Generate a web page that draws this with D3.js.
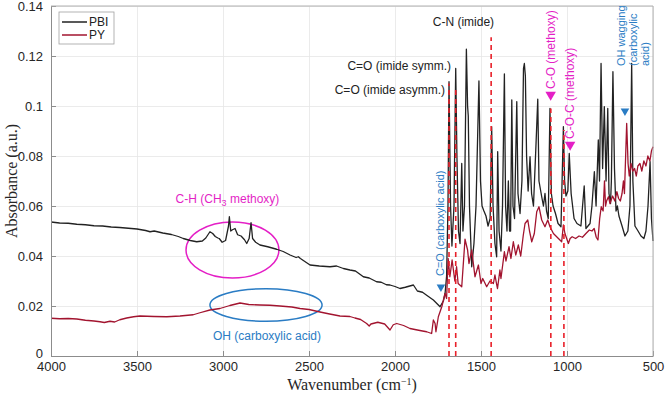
<!DOCTYPE html>
<html>
<head>
<meta charset="utf-8">
<script src="https://cdn.jsdelivr.net/npm/d3@7"></script>
<style>
  body { margin: 0; background: #fff; }
  svg { display: block; font-family: "Liberation Sans", Arial, sans-serif; }
</style>
</head>
<body>
<div id="chart"></div>
<script>
// spectra: [wavenumber cm-1, absorbance]
const pbi = [
  [4000,0.0536],[3950,0.0532],[3900,0.0531],[3850,0.0527],[3800,0.0525],[3750,0.0521],[3700,0.052],[3650,0.0516],
  [3600,0.0514],[3550,0.0511],[3500,0.0508],[3450,0.0502],[3424,0.0497],[3400,0.05],[3350,0.0492],[3300,0.0486],
  [3260,0.0478],[3231,0.047],[3190,0.0462],[3153,0.0457],[3120,0.046],[3100,0.0472],[3076,0.0497],[3060,0.049],
  [3045,0.0478],[3030,0.0472],[3022,0.047],[3005,0.0455],[2985,0.0462],[2968,0.052],[2963,0.0557],[2955,0.05],
  [2945,0.0505],[2930,0.051],[2915,0.0485],[2895,0.048],[2875,0.0465],[2862,0.045],[2848,0.047],[2837,0.0533],
  [2828,0.047],[2810,0.0455],[2785,0.0444],[2740,0.0437],[2688,0.0427],[2650,0.0418],[2610,0.0404],[2575,0.0394],
  [2562,0.0397],[2550,0.039],[2494,0.0364],[2440,0.036],[2378,0.0357],[2340,0.036],[2300,0.035],[2262,0.0344],
  [2230,0.034],[2200,0.0325],[2184,0.0317],[2150,0.0312],[2107,0.0297],[2080,0.0295],[2050,0.0285],[2029,0.0284],
  [2000,0.0278],[1971,0.027],[1940,0.0275],[1893,0.0284],[1870,0.026],[1840,0.0255],[1810,0.024],[1777,0.0224],
  [1738,0.0197],[1719,0.022],[1709,0.025],[1700,0.032],[1692,0.06],[1686,0.1097],[1677,0.06],[1669,0.044],
  [1657,0.06],[1647,0.115],[1640,0.08],[1631,0.05],[1622,0.045],[1612,0.077],[1605,0.05],[1596,0.06],
  [1585,0.1227],[1578,0.1],[1574,0.096],[1567,0.06],[1554,0.0357],[1541,0.045],[1529,0.06],[1512,0.11],
  [1503,0.07],[1494,0.06],[1483,0.058],[1471,0.056],[1459,0.052],[1447,0.055],[1438,0.0917],[1430,0.06],
  [1419,0.045],[1409,0.0397],[1403,0.0817],[1395,0.05],[1384,0.042],[1375,0.06],[1364,0.1128],[1357,0.06],
  [1349,0.05],[1341,0.07],[1334,0.05],[1328,0.05],[1321,0.1024],[1314,0.06],[1305,0.055],[1292,0.1017],
  [1285,0.065],[1273,0.057],[1262,0.07],[1253,0.115],[1248,0.117],[1242,0.112],[1235,0.08],[1226,0.066],
  [1215,0.0797],[1206,0.065],[1195,0.06],[1180,0.085],[1170,0.1027],[1163,0.07],[1147,0.0637],[1137,0.06],
  [1128,0.065],[1119,0.058],[1109,0.055],[1099,0.099],[1091,0.065],[1081,0.06],[1067,0.057],[1052,0.053],
  [1035,0.0517],[1021,0.0917],[1014,0.07],[1006,0.064],[995,0.066],[987,0.081],[976,0.065],[959,0.055],
  [942,0.053],[919,0.052],[900,0.068],[890,0.051],[866,0.053],[855,0.06],[841,0.0737],[831,0.06],
  [818,0.0864],[811,0.07],[802,0.117],[793,0.075],[783,0.0997],[773,0.07],[763,0.099],[756,0.065],
  [747,0.061],[742,0.07],[733,0.1137],[724,0.075],[715,0.058],[707,0.06],[698,0.056],[680,0.052],
  [663,0.048],[646,0.05],[634,0.06],[624,0.117],[617,0.07],[605,0.052],[587,0.05],[570,0.048],
  [553,0.047],[541,0.05],[529,0.06],[517,0.0777],[509,0.055],[500,0.046]
]

const py = [
  [4000,0.0151],[3950,0.0149],[3900,0.015],[3850,0.0148],[3800,0.0143],[3750,0.014],[3715,0.0137],[3690,0.0134],
  [3657,0.0139],[3630,0.0136],[3600,0.0145],[3560,0.0152],[3520,0.0157],[3483,0.016],[3400,0.0158],[3327,0.0157],
  [3250,0.016],[3173,0.0165],[3134,0.0173],[3076,0.0184],[3018,0.019],[2960,0.0202],[2901,0.0212],[2850,0.0206],
  [2785,0.0204],[2727,0.0203],[2669,0.02],[2600,0.0196],[2552,0.019],[2500,0.0186],[2436,0.0176],[2380,0.0168],
  [2320,0.016],[2262,0.0158],[2233,0.0152],[2200,0.0146],[2165,0.013],[2150,0.012],[2140,0.0128],[2100,0.0135],
  [2060,0.0128],[2029,0.0104],[2010,0.0125],[1990,0.013],[1950,0.0122],[1913,0.011],[1870,0.0104],[1840,0.01],
  [1816,0.0097],[1787,0.009],[1777,0.0144],[1767,0.013],[1762,0.0097],[1748,0.0157],[1728,0.0197],[1709,0.025],
  [1700,0.023],[1691,0.039],[1681,0.0317],[1668,0.0384],[1652,0.03],[1642,0.0357],[1633,0.029],[1612,0.0277],
  [1593,0.0467],[1578,0.0424],[1570,0.037],[1554,0.0424],[1535,0.0317],[1515,0.0364],[1500,0.029],[1490,0.031],
  [1467,0.0277],[1448,0.03],[1428,0.029],[1419,0.0324],[1410,0.029],[1404,0.027],[1390,0.0344],[1384,0.031],
  [1364,0.0417],[1355,0.038],[1337,0.0437],[1326,0.039],[1312,0.0457],[1298,0.0404],[1283,0.0444],[1269,0.04],
  [1254,0.0484],[1244,0.053],[1228,0.0544],[1218,0.05],[1205,0.0457],[1190,0.049],[1176,0.0577],[1163,0.0597],
  [1147,0.0544],[1128,0.0517],[1112,0.0544],[1099,0.0517],[1079,0.049],[1050,0.047],[1031,0.0457],[1021,0.0524],
  [1012,0.049],[992,0.045],[982,0.047],[970,0.0477],[950,0.047],[930,0.048],[910,0.0475],[890,0.049],
  [870,0.0504],[855,0.05],[842,0.051],[830,0.0475],[820,0.0464],[810,0.055],[801,0.0597],[790,0.058],
  [782,0.07],[776,0.06],[770,0.062],[759,0.0637],[750,0.061],[735,0.064],[722,0.062],[710,0.0657],
  [700,0.063],[690,0.062],[680,0.065],[672,0.07],[666,0.065],[653,0.093],[645,0.077],[638,0.072],
  [628,0.077],[618,0.074],[607,0.075],[597,0.072],[588,0.076],[576,0.077],[565,0.074],[553,0.078],
  [541,0.076],[530,0.08],[518,0.078],[509,0.082],[500,0.0837]
]

// band assignments: dashed guide lines [wavenumber, top absorbance]
const bandLines = [[1686,0.109],[1647,0.108],[1441,0.1275],[1094,0.099],[1018,0.0904]]

const xTicks = [4000,3500,3000,2500,2000,1500,1000,500]
const yTicks = [0,0.02,0.04,0.06,0.08,0.1,0.12,0.14]
const yTickLabels = ["0","0.02","0.04","0.06","0.08","0.1","0.12","0.14"]

const seriesNames = ["PBI","PY"]
const seriesColors = ["#222222","#a2142f"]

const magenta = "#e41fc6"
const blue = "#2a7cc4"

drawChart("#chart")

function drawChart(id){
    const canvas = createCanvas()
    const svg = addSvg(id,canvas)
    const sc = addScales(canvas)

    addGrid(svg,sc,canvas)
    addEllipses(svg,sc)
    addSpectrum(svg,sc,pbi,seriesColors[0])
    addSpectrum(svg,sc,py,seriesColors[1])
    addBandLines(svg,sc)
    addAxes(svg,sc,canvas)
    addAnnotations(svg,sc)
    addLegend(svg,canvas)
    addLabels(svg,canvas)
}

function createCanvas(){
    return { width: 666, height: 394, margin: {top: 6, bottom: 38, right: 13, left: 51} }
}

function addSvg(id,canvas){
    return d3.select(id).append("svg").attr("width",canvas.width).attr("height",canvas.height)
}

function addScales(canvas){
    const xScale = d3.scaleLinear().domain([4000,500])
      .range([canvas.margin.left,canvas.width - canvas.margin.right])
    const yScale = d3.scaleLinear().domain([0,0.14])
      .range([canvas.height - canvas.margin.bottom,canvas.margin.top])
    return {xScale,yScale}
}

function addGrid(svg,sc,canvas){
    const b = canvas.height - canvas.margin.bottom
    const w = canvas.width - canvas.margin.left - canvas.margin.right
    const gx = svg.append("g").attr("transform",`translate(0,${b})`)
      .call(d3.axisBottom(sc.xScale).tickValues(xTicks).tickSize(-(b - canvas.margin.top)).tickFormat(""))
    const gy = svg.append("g").attr("transform",`translate(${canvas.margin.left},0)`)
      .call(d3.axisLeft(sc.yScale).tickValues(yTicks).tickSize(-w).tickFormat(""))
    for (const g of [gx,gy]){
        g.select(".domain").remove()
        g.selectAll("line").attr("stroke","#e6e6e6").attr("stroke-width",0.8)
    }
}

function addSpectrum(svg,sc,data,color){
    const line = d3.line().x(d => sc.xScale(d[0])).y(d => sc.yScale(d[1]))
    svg.append("path").datum(data).attr("fill","none").attr("stroke",color)
      .attr("stroke-width",1.3).attr("stroke-linejoin","round").attr("d",line)
}

function addBandLines(svg,sc){
    svg.append("g").selectAll("line").data(bandLines).join("line")
      .attr("x1",d => sc.xScale(d[0])).attr("x2",d => sc.xScale(d[0]))
      .attr("y1",sc.yScale(0)).attr("y2",d => sc.yScale(d[1]))
      .attr("stroke","#e8202a").attr("stroke-width",1.6).attr("stroke-dasharray","5 4")
}

function addAxes(svg,sc,canvas){
    const b = canvas.height - canvas.margin.bottom
    const r = canvas.width - canvas.margin.right
    const gx = svg.append("g").attr("transform",`translate(0,${b})`)
      .call(d3.axisBottom(sc.xScale).tickValues(xTicks).tickSizeInner(-5).tickSizeOuter(0).tickPadding(6).tickFormat(d3.format("d")))
    const gy = svg.append("g").attr("transform",`translate(${canvas.margin.left},0)`)
      .call(d3.axisLeft(sc.yScale).tickValues(yTicks).tickSizeInner(-5).tickSizeOuter(0).tickPadding(8)
        .tickFormat((d,i) => yTickLabels[i]))
    for (const g of [gx,gy]){
        g.select(".domain").attr("stroke","#8c8c8c")
        g.selectAll(".tick line").attr("stroke","#8c8c8c")
        g.selectAll("text").attr("fill","#262626").style("font-size","13px")
    }
    // the "0" label sits a little above the x tick labels, as in the figure
    gy.selectAll(".tick").filter(d => d === 0).select("text").attr("dy","0.1em")
    // box
    svg.append("line").attr("x1",canvas.margin.left).attr("x2",r).attr("y1",canvas.margin.top).attr("y2",canvas.margin.top)
      .attr("stroke","#b0b0b0")
    svg.append("line").attr("x1",r).attr("x2",r).attr("y1",canvas.margin.top).attr("y2",b)
      .attr("stroke","#b0b0b0")
}

function addEllipses(svg,sc){
    const pxX = v => Math.abs(sc.xScale(0) - sc.xScale(v))
    const pxY = v => Math.abs(sc.yScale(0) - sc.yScale(v))
    svg.append("ellipse").attr("cx",sc.xScale(2945)).attr("cy",sc.yScale(0.0424))
      .attr("rx",pxX(270)).attr("ry",pxY(0.0112))
      .attr("fill","none").attr("stroke",magenta).attr("stroke-width",1.5)
    svg.append("ellipse").attr("cx",sc.xScale(2750)).attr("cy",sc.yScale(0.0204))
      .attr("rx",pxX(326)).attr("ry",pxY(0.0065))
      .attr("fill","none").attr("stroke",blue).attr("stroke-width",1.5)
}

function addAnnotations(svg,sc){
    const X = sc.xScale, Y = sc.yScale

    const t = svg.append("g").style("font-size","12px")
    t.append("text").attr("x",X(1424)).attr("y",Y(0.132)).attr("text-anchor","end").attr("fill","#222").text("C-N (imide)")
    t.append("text").attr("x",X(1674)).attr("y",Y(0.1144)).attr("text-anchor","end").attr("fill","#222").text("C=O (imide symm.)")
    t.append("text").attr("x",X(1709)).attr("y",Y(0.1048)).attr("text-anchor","end").attr("fill","#222").text("C=O (imide asymm.)")

    const ch = t.append("text").attr("x",X(2974)).attr("y",Y(0.0612)).attr("text-anchor","middle").attr("fill",magenta)
    ch.append("tspan").text("C-H (CH")
    ch.append("tspan").attr("dy",3).style("font-size","9px").text("3")
    ch.append("tspan").attr("dy",-3).text(" methoxy)")

    t.append("text").attr("x",X(2744)).attr("y",Y(0.0064)).attr("text-anchor","middle").attr("fill",blue)
      .text("OH (carboxylic acid)")

    const rot = (w,v,txt,color,size) => t.append("text")
      .attr("transform",`translate(${X(w)},${Y(v)}) rotate(-90)`)
      .attr("fill",color).style("font-size",size).text(txt)

    rot(1715,0.032,"C=O (carboxylic acid)",blue,"11px")
    rot(1068,0.1068,"C-O (methoxy)",magenta,"12px")
    rot(958,0.0868,"C-O-C (methoxy)",magenta,"12px")
    rot(661,0.116,"OH wagging",blue,"11px")
    rot(594,0.116,"(carboxylic",blue,"11px")
    rot(525,0.116,"acid)",blue,"11px")

    const markers = [[1733,0.0276,blue,32],[663,0.098,blue,32],[1095,0.1045,magenta,48],[982,0.0845,magenta,48]]
    svg.append("g").selectAll("path").data(markers).join("path")
      .attr("d",d => d3.symbol(d3.symbolTriangle,d[3])())
      .attr("transform",d => `translate(${X(d[0])},${Y(d[1])}) rotate(180)`)
      .attr("fill",d => d[2])
}

function addLegend(svg,canvas){
    const g = svg.append("g").attr("transform","translate(59,12)")
    g.append("rect").attr("width",55).attr("height",32).attr("fill","#fff").attr("stroke","#a0a0a0").attr("stroke-width",0.8)
    seriesNames.forEach((n,i) => {
        const cy = 10 + i*13
        g.append("line").attr("x1",3).attr("x2",28).attr("y1",cy).attr("y2",cy)
          .attr("stroke",seriesColors[i]).attr("stroke-width",1.5)
        g.append("text").attr("x",30).attr("y",cy).attr("dy","0.35em").attr("fill","#222")
          .style("font-size","12px").text(n)
    })
}

function addLabels(svg,canvas){
    const cx = (canvas.margin.left + canvas.width - canvas.margin.right)/2
    const cy = (canvas.margin.top + canvas.height - canvas.margin.bottom)/2
    const xl = svg.append("text").attr("x",cx).attr("y",390).attr("text-anchor","middle")
      .style("font-family","'Liberation Serif', serif").style("font-size","16px").attr("fill","#262626")
    xl.append("tspan").text("Wavenumber (cm")
    xl.append("tspan").attr("dy",-5).style("font-size","10px").text("\u22121")
    xl.append("tspan").attr("dy",5).text(")")

    svg.append("text").attr("transform",`translate(17,${cy}) rotate(-90)`).attr("text-anchor","middle")
      .style("font-family","'Liberation Serif', serif").style("font-size","16px").attr("fill","#262626")
      .text("Absorbance (a.u.)")
}
</script>
</body>
</html>
